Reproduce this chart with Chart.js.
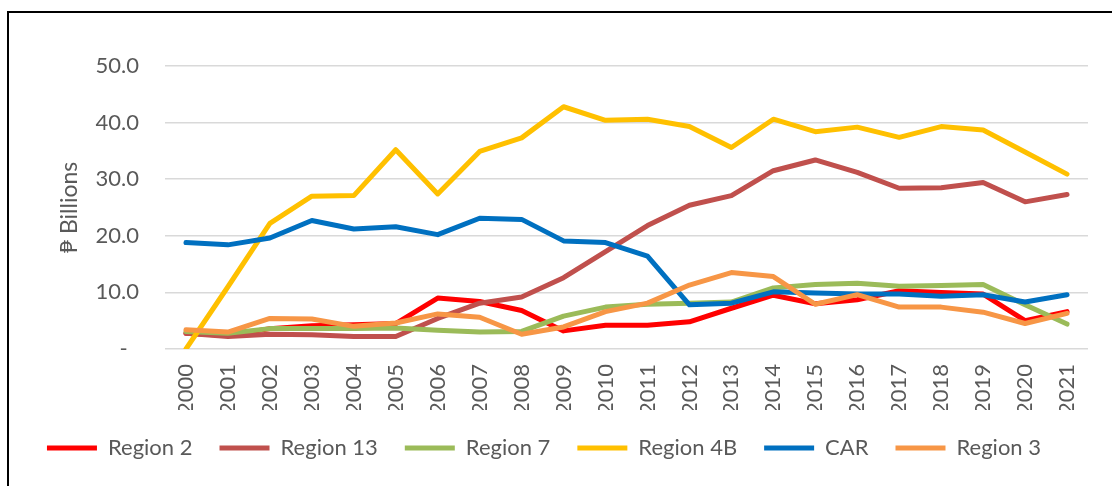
<!DOCTYPE html>
<html>
<head>
<meta charset="utf-8">
<script src="https://cdn.jsdelivr.net/npm/chart.js@4/dist/chart.umd.min.js"></script>
<style>
  html, body { margin: 0; padding: 0; background: #fff; overflow: hidden; }
  #frame { position: absolute; left: 7px; top: 11px; width: 1200px; height: 600px; border: 2px solid #000; }
  #wrap { position: absolute; left: 0; top: 0; width: 1112px; height: 486px; }
</style>
</head>
<body>
<div id="frame"></div>
<div id="wrap"><canvas id="result"></canvas></div>
<script>
const years = ['2000', '2001', '2002', '2003', '2004', '2005', '2006', '2007', '2008', '2009', '2010',
  '2011', '2012', '2013', '2014', '2015', '2016', '2017', '2018', '2019', '2020', '2021']

// values in billions of pesos
const region2 = [2.8, 2.4, 3.6, 4.1, 4.3, 4.5, 9.0, 8.4, 6.8, 3.2, 4.2, 4.2, 4.8, 7.2, 9.5, 8.0, 8.7, 10.3, 10.0, 9.7, 5.0, 6.6]
const region13 = [2.8, 2.2, 2.6, 2.5, 2.2, 2.2, 5.4, 8.1, 9.2, 12.6, 17.2, 21.8, 25.4, 27.1, 31.5, 33.4, 31.2, 28.4, 28.5, 29.4, 26.0, 27.3]
const region7 = [3.1, 2.8, 3.6, 3.6, 3.6, 3.7, 3.3, 3.0, 3.1, 5.8, 7.4, 7.9, 8.1, 8.3, 10.8, 11.4, 11.6, 11.1, 11.2, 11.4, 7.8, 4.4]
const region4B = [0, 11.0, 22.2, 27.0, 27.1, 35.2, 27.4, 34.9, 37.3, 42.8, 40.4, 40.6, 39.3, 35.6, 40.6, 38.4, 39.2, 37.4, 39.3, 38.7, 34.8, 30.9]
const car = [18.8, 18.4, 19.6, 22.7, 21.2, 21.6, 20.2, 23.1, 22.9, 19.1, 18.8, 16.4, 7.8, 8.1, 10.1, 9.9, 9.7, 9.7, 9.3, 9.6, 8.3, 9.6]
const region3 = [3.4, 3.0, 5.4, 5.3, 4.0, 4.6, 6.2, 5.6, 2.6, 3.9, 6.6, 8.1, 11.3, 13.5, 12.8, 7.9, 9.6, 7.4, 7.4, 6.5, 4.5, 6.3]

const seriesNames = ['Region 2', 'Region 13', 'Region 7', 'Region 4B', 'CAR', 'Region 3']
const seriesData = [region2, region13, region7, region4B, car, region3]
const colors = ['#ff0000', '#c0504d', '#9bbb59', '#ffc000', '#0070c0', '#f79646']

const textColor = '#595959'
const fontFamily = 'Lato, "Open Sans", sans-serif'

document.fonts.load('22px Lato').then(setupChart, setupChart)

function setupChart () {
  const ctx = document.getElementById('result').getContext('2d')

  const datasets = seriesNames.map(function (name, i) {
    return {
      label: name,
      data: seriesData[i],
      borderColor: colors[i],
      backgroundColor: colors[i],
      borderWidth: 5,
      borderCapStyle: 'round',
      borderJoinStyle: 'round',
      pointRadius: 0,
      tension: 0,
      fill: false,
      // later series sit on top, like the spreadsheet
      order: seriesNames.length - i
    }
  })

  new Chart(ctx, {
    type: 'line',
    data: { labels: years, datasets: datasets },
    options: {
      responsive: true,
      maintainAspectRatio: false,
      devicePixelRatio: 1,
      animation: false,
      layout: { padding: { top: 66, right: 24, left: 0, bottom: 17 } },
      plugins: {
        tooltip: { enabled: false },
        legend: {
          position: 'bottom',
          labels: {
            usePointStyle: true,
            pointStyle: 'line',
            pointStyleWidth: 50,
            padding: 27,
            color: textColor,
            font: { family: fontFamily, size: 22 },
            sort: function (a, b) { return a.datasetIndex - b.datasetIndex }
          }
        }
      },
      scales: {
        x: {
          offset: true,
          grid: { display: false, drawTicks: false },
          border: { display: false },
          ticks: {
            autoSkip: false,
            minRotation: 90,
            maxRotation: 90,
            padding: 15,
            color: textColor,
            font: { family: fontFamily, size: 22 }
          },
          afterFit: function (scale) { scale.height = 61 }
        },
        y: {
          min: 0,
          max: 50,
          grid: { color: '#d9d9d9', lineWidth: 1.5, drawTicks: false },
          border: { display: false },
          ticks: {
            stepSize: 10,
            padding: 26,
            color: textColor,
            font: { family: fontFamily, size: 22 },
            callback: function (v) { return v === 0 ? '-  ' : v.toFixed(1) }
          },
          title: {
            display: true,
            text: '₱ Billions',
            color: textColor,
            font: { family: fontFamily, size: 23 },
            padding: { top: 56, bottom: 0 }
          },
          afterFit: function (scale) { scale.width = 165 }
        }
      }
    }
  })
}
</script>
</body>
</html>
